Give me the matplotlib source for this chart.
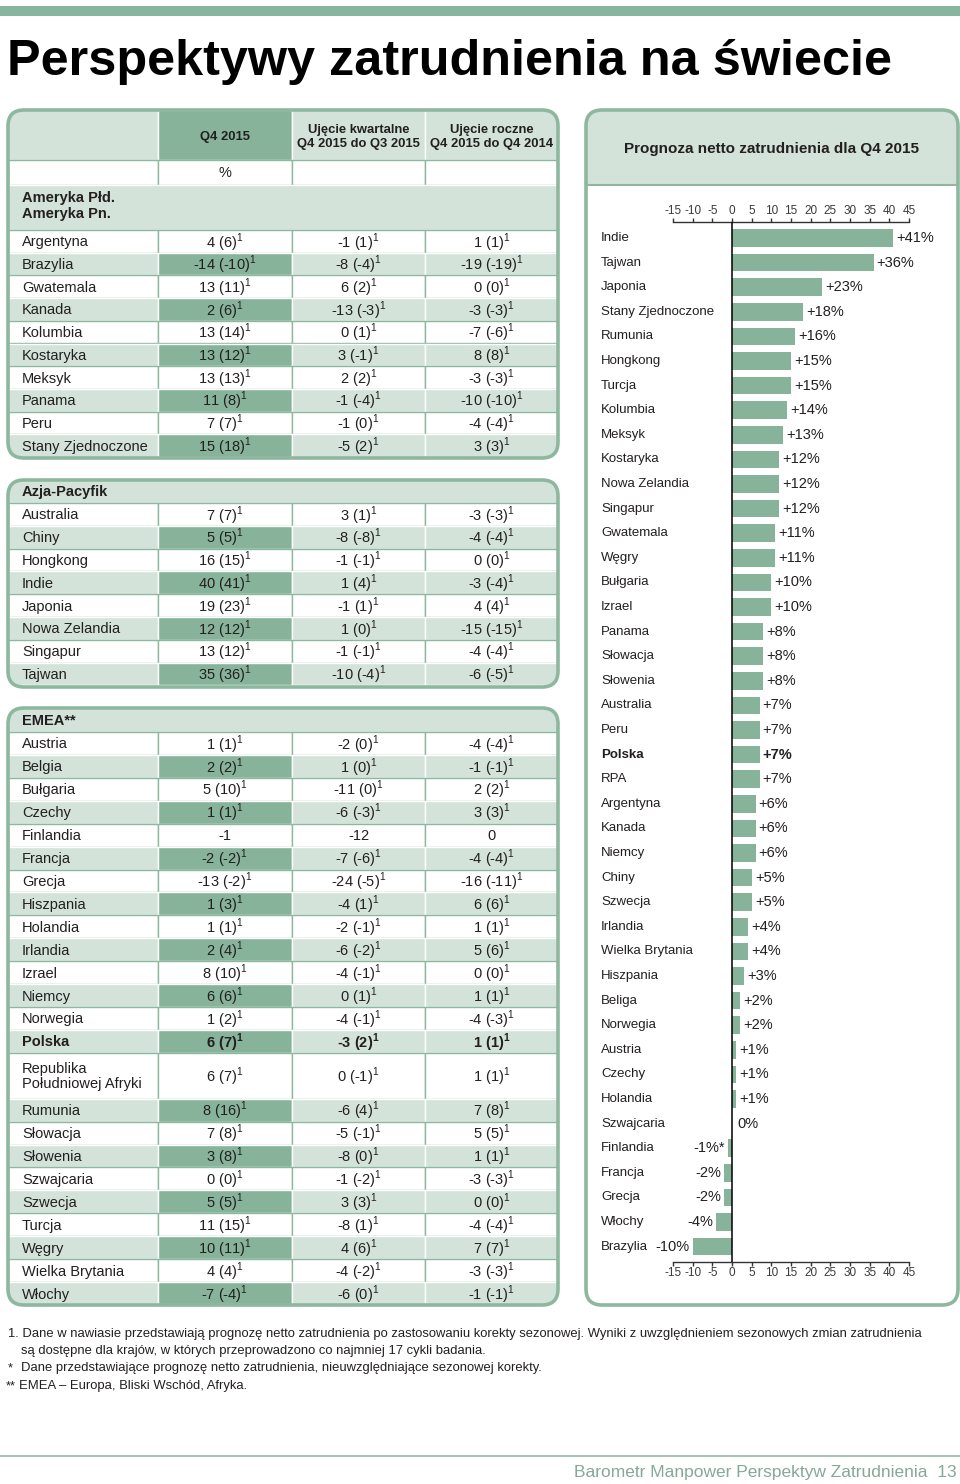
import matplotlib
matplotlib.use("Agg")
import matplotlib.pyplot as plt
from matplotlib.patches import FancyBboxPatch, Rectangle
from matplotlib import font_manager
import matplotlib.transforms as mtransforms

# ---- data -------------------------------------------------------------
am_names = ["Argentyna", "Brazylia", "Gwatemala", "Kanada", "Kolumbia",
            "Kostaryka", "Meksyk", "Panama", "Peru", "Stany Zjednoczone"]
am_q4 = ["4 (6)", "-14 (-10)", "13 (11)", "2 (6)", "13 (14)", "13 (12)",
         "13 (13)", "11 (8)", "7 (7)", "15 (18)"]
am_qoq = ["-1 (1)", "-8 (-4)", "6 (2)", "-13 (-3)", "0 (1)", "3 (-1)",
          "2 (2)", "-1 (-4)", "-1 (0)", "-5 (2)"]
am_yoy = ["1 (1)", "-19 (-19)", "0 (0)", "-3 (-3)", "-7 (-6)", "8 (8)",
          "-3 (-3)", "-10 (-10)", "-4 (-4)", "3 (3)"]

ap_names = ["Australia", "Chiny", "Hongkong", "Indie", "Japonia",
            "Nowa Zelandia", "Singapur", "Tajwan"]
ap_q4 = ["7 (7)", "5 (5)", "16 (15)", "40 (41)", "19 (23)", "12 (12)",
         "13 (12)", "35 (36)"]
ap_qoq = ["3 (1)", "-8 (-8)", "-1 (-1)", "1 (4)", "-1 (1)", "1 (0)",
          "-1 (-1)", "-10 (-4)"]
ap_yoy = ["-3 (-3)", "-4 (-4)", "0 (0)", "-3 (-4)", "4 (4)", "-15 (-15)",
          "-4 (-4)", "-6 (-5)"]

emea_names = ["Austria", "Belgia", "Bułgaria", "Czechy", "Finlandia",
              "Francja", "Grecja", "Hiszpania", "Holandia", "Irlandia",
              "Izrael", "Niemcy", "Norwegia", "Polska",
              "Republika\nPołudniowej Afryki", "Rumunia", "Słowacja",
              "Słowenia", "Szwajcaria", "Szwecja", "Turcja", "Węgry",
              "Wielka Brytania", "Włochy"]
emea_q4 = ["1 (1)", "2 (2)", "5 (10)", "1 (1)", "-1", "-2 (-2)", "-13 (-2)",
           "1 (3)", "1 (1)", "2 (4)", "8 (10)", "6 (6)", "1 (2)", "6 (7)",
           "6 (7)", "8 (16)", "7 (8)", "3 (8)", "0 (0)", "5 (5)", "11 (15)",
           "10 (11)", "4 (4)", "-7 (-4)"]
emea_qoq = ["-2 (0)", "1 (0)", "-11 (0)", "-6 (-3)", "-12", "-7 (-6)",
            "-24 (-5)", "-4 (1)", "-2 (-1)", "-6 (-2)", "-4 (-1)", "0 (1)",
            "-4 (-1)", "-3 (2)", "0 (-1)", "-6 (4)", "-5 (-1)", "-8 (0)",
            "-1 (-2)", "3 (3)", "-8 (1)", "4 (6)", "-4 (-2)", "-6 (0)"]
emea_yoy = ["-4 (-4)", "-1 (-1)", "2 (2)", "3 (3)", "0", "-4 (-4)",
            "-16 (-11)", "6 (6)", "1 (1)", "5 (6)", "0 (0)", "1 (1)",
            "-4 (-3)", "1 (1)", "1 (1)", "7 (8)", "5 (5)", "1 (1)",
            "-3 (-3)", "0 (0)", "-4 (-4)", "7 (7)", "-3 (-3)", "-1 (-1)"]

bar_names = ["Indie", "Tajwan", "Japonia", "Stany Zjednoczone", "Rumunia",
             "Hongkong", "Turcja", "Kolumbia", "Meksyk", "Kostaryka",
             "Nowa Zelandia", "Singapur", "Gwatemala", "Węgry", "Bułgaria",
             "Izrael", "Panama", "Słowacja", "Słowenia", "Australia", "Peru",
             "Polska", "RPA", "Argentyna", "Kanada", "Niemcy", "Chiny",
             "Szwecja", "Irlandia", "Wielka Brytania", "Hiszpania", "Beliga",
             "Norwegia", "Austria", "Czechy", "Holandia", "Szwajcaria",
             "Finlandia", "Francja", "Grecja", "Włochy", "Brazylia"]
bar_values = [41, 36, 23, 18, 16, 15, 15, 14, 13, 12, 12, 12, 11, 11, 10, 10,
              8, 8, 8, 7, 7, 7, 7, 6, 6, 6, 5, 5, 4, 4, 3, 2, 2, 1, 1, 1, 0,
              -1, -2, -2, -4, -10]
unadjusted = ["Finlandia"]  # marked with *

# ---- style ------------------------------------------------------------
LIGHT = "#d3e3d9"
DARK = "#87b39b"
BORDER = "#8db89f"
TEXT = "#231f20"

avail = {f.name for f in font_manager.fontManager.ttflist}
BASE = "Liberation Sans"
TITLE_FONT = "Liberation Sans Narrow" if "Liberation Sans Narrow" in avail else BASE

plt.rcParams["font.family"] = [BASE, "DejaVu Sans"]
plt.rcParams["mathtext.fontset"] = "custom"
plt.rcParams["mathtext.rm"] = BASE
plt.rcParams["mathtext.bf"] = BASE + ":bold"
plt.rcParams["text.color"] = TEXT
plt.rcParams["axes.unicode_minus"] = False

fig = plt.figure(figsize=(9.6, 14.84), dpi=100)
ax = fig.add_axes([0, 0, 1, 1])
ax.set_xlim(0, 960)
ax.set_ylim(1484, 0)
ax.axis("off")

# top strip and title
ax.add_patch(Rectangle((0, 6), 960, 10, fc="#87b59d", ec="none"))
ax.text(7, 75, "Perspektywy zatrudnienia na świecie", family=TITLE_FONT,
        fontsize=36.3, fontweight="bold", color="black", va="baseline")

C = [8, 158, 292, 425, 558]
centers = [(C[i] + C[i + 1]) / 2 for i in range(4)]


def rbox(x0, y0, x1, y1):
    p = FancyBboxPatch((x0, y0), x1 - x0, y1 - y0,
                       boxstyle="round,pad=0,rounding_size=16",
                       fc="none", ec=BORDER, lw=2.6, zorder=6)
    ax.add_patch(p)
    return p


def cell(x0, y0, x1, y1, fc, ec, clip, lw=1.0):
    r = Rectangle((x0, y0), x1 - x0, y1 - y0, fc=fc, ec=ec, lw=lw, zorder=2)
    ax.add_patch(r)
    r.set_clip_path(clip)


def val(s, bold):
    if "(" not in s:
        return s
    return s + ("$^{\\mathbf{1}}$" if bold else "$^{1}$")


def draw_rows(y, names, q4, qoq, yoy, h, clip):
    for i, name in enumerate(names):
        hh = h * (2 if "\n" in name else 1)
        shaded = i % 2 == 1
        bold = name == "Polska"
        fw = "bold" if bold else "normal"
        for k in range(4):
            if shaded:
                fc = DARK if k == 1 else LIGHT
                cell(C[k], y, C[k + 1], y + hh, fc, "white", clip, 1.0)
            else:
                cell(C[k], y, C[k + 1], y + hh, "white", BORDER, clip, 1.0)
        yc = y + hh / 2 + 1
        ax.text(22, yc, name, fontsize=10.5, va="center", fontweight=fw,
                linespacing=1.1, zorder=4)
        for k, s in zip((1, 2, 3), (q4[i], qoq[i], yoy[i])):
            ax.text(centers[k], yc, val(s, bold), fontsize=10.5, ha="center",
                    va="center", fontweight=fw, zorder=4)
        y += hh


# ---- table 1: Americas ---------------------------------------------------
b1 = rbox(8, 110, 558, 458)
cell(C[0], 110, C[1], 160, LIGHT, "white", b1)
cell(C[1], 110, C[2], 160, DARK, "white", b1)
cell(C[2], 110, C[3], 160, LIGHT, "white", b1)
cell(C[3], 110, C[4], 160, LIGHT, "white", b1)
for k in range(4):
    cell(C[k], 160, C[k + 1], 185, "white", BORDER, b1)
cell(C[0], 185, C[4], 230, LIGHT, "white", b1)
ax.text(centers[1], 137, "Q4 2015", fontsize=9.4, fontweight="bold",
        ha="center", va="center", zorder=4)
ax.text(centers[2], 137, "Ujęcie kwartalne\nQ4 2015 do Q3 2015", fontsize=9.4,
        fontweight="bold", ha="center", va="center", linespacing=1.3, zorder=4)
ax.text(centers[3], 137, "Ujęcie roczne\nQ4 2015 do Q4 2014", fontsize=9.4,
        fontweight="bold", ha="center", va="center", linespacing=1.3, zorder=4)
ax.text(centers[1], 173, "%", fontsize=10.5, ha="center", va="center", zorder=4)
ax.text(22, 206, "Ameryka Płd.\nAmeryka Pn.", fontsize=10.5, fontweight="bold",
        va="center", linespacing=1.15, zorder=4)
draw_rows(230, am_names, am_q4, am_qoq, am_yoy, 22.7, b1)

# ---- table 2: Asia-Pacific ------------------------------------------------
b2 = rbox(8, 480, 558, 687)
cell(C[0], 480, C[4], 503, LIGHT, "white", b2)
ax.text(22, 492, "Azja-Pacyfik", fontsize=10.5, fontweight="bold",
        va="center", zorder=4)
draw_rows(503, ap_names, ap_q4, ap_qoq, ap_yoy, 22.8, b2)

# ---- table 3: EMEA ----------------------------------------------------------
b3 = rbox(8, 708, 558, 1305)
cell(C[0], 708, C[4], 732, LIGHT, "white", b3)
ax.text(22, 721, "EMEA**", fontsize=10.5, fontweight="bold",
        va="center", zorder=4)
draw_rows(732, emea_names, emea_q4, emea_qoq, emea_yoy, 22.92, b3)

# ---- bar panel ----------------------------------------------------------------
b4 = rbox(586, 110, 958, 1305)
cell(586, 110, 958, 185, LIGHT, "none", b4)
ax.plot([586, 958], [185, 185], color=BORDER, lw=1.5, zorder=5)
ax.text(771, 149, "Prognoza netto zatrudnienia dla Q4 2015", fontsize=11,
        fontweight="bold", ha="center", va="center", zorder=4)

x0p, x1p, y0p, y1p = 673, 909, 222, 1262
bx = fig.add_axes([x0p / 960, 1 - y1p / 1484, (x1p - x0p) / 960,
                   (y1p - y0p) / 1484])
bx.patch.set_alpha(0)
n = len(bar_names)
pos = list(range(n))
first, step = 238, 24.6
bx.set_ylim((y1p - first) / step, (y0p - first) / step)
bx.set_xlim(-15, 45)
bx.barh(pos, bar_values, height=0.72, color=DARK, zorder=2)
bx.axvline(0, color="black", lw=1.1, zorder=3)
bx.set_xticks(range(-15, 50, 5))
bx.xaxis.set_ticks_position("both")
bx.tick_params(axis="x", which="both", direction="out", length=3, width=1,
               labeltop=True, labelbottom=True, labelsize=8.5,
               labelcolor="#3a3a3a", color="#333333", pad=0.5)
bx.set_yticks([])
for s in ("left", "right"):
    bx.spines[s].set_visible(False)
for s in ("top", "bottom"):
    bx.spines[s].set_color("#333333")
    bx.spines[s].set_linewidth(1)

lab_tr = mtransforms.blended_transform_factory(ax.transData, bx.transData)
for i, (name, v) in enumerate(zip(bar_names, bar_values)):
    fw = "bold" if name == "Polska" else "normal"
    bx.text(601, i, name, transform=lab_tr, fontsize=9.5, va="center",
            fontweight=fw)
    star = "*" if name in unadjusted else ""
    if v > 0:
        bx.text(v + 0.8, i, f"+{v}%", fontsize=10.5, va="center", ha="left",
                fontweight=fw)
    elif v == 0:
        bx.text(v + 1.3, i, f"{v}%", fontsize=10.5, va="center", ha="left")
    else:
        bx.text(v - 0.8, i, f"{v}%{star}", fontsize=10.5, va="center",
                ha="right", fontweight=fw)

# ---- footnotes ----------------------------------------------------------------
fn = 9.4
ax.text(8, 1334, "1. Dane w nawiasie przedstawiają prognozę netto zatrudnienia po "
        "zastosowaniu korekty sezonowej. Wyniki z uwzględnieniem sezonowych zmian "
        "zatrudnienia", fontsize=fn, va="center")
ax.text(21, 1351, "są dostępne dla krajów, w których przeprowadzono co najmniej "
        "17 cykli badania.", fontsize=fn, va="center")
ax.text(8, 1368, "*", fontsize=fn, va="center")
ax.text(21, 1368, "Dane przedstawiające prognozę netto zatrudnienia, "
        "nieuwzględniające sezonowej korekty.", fontsize=fn, va="center")
ax.text(6, 1386, "**", fontsize=fn, va="center")
ax.text(19, 1386, "EMEA – Europa, Bliski Wschód, Afryka.", fontsize=fn,
        va="center")

ax.plot([0, 960], [1456, 1456], color="#a9c4b5", lw=1.5)
ax.text(957, 1473, "Barometr Manpower Perspektyw Zatrudnienia  13",
        fontsize=12.5, color="#86a898", ha="right", va="center")

fig.savefig("out.png", dpi=100)
